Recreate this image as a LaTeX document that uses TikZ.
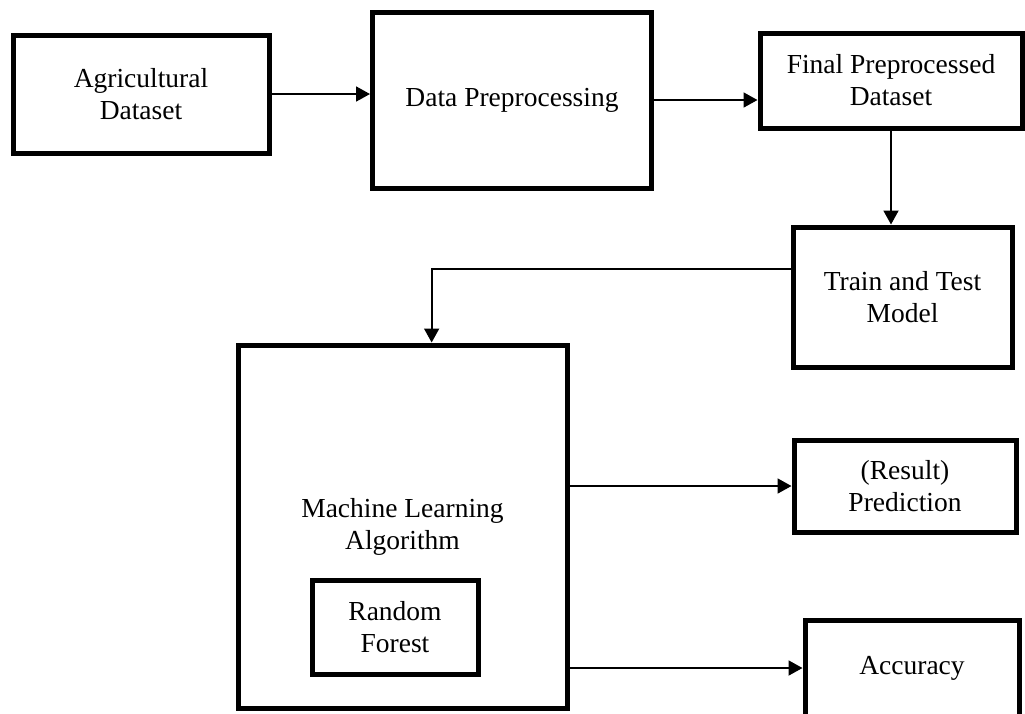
\documentclass[tikz,border=0pt]{standalone}
\usepackage{fontspec}
\setmainfont{Liberation Serif}
\usetikzlibrary{arrows.meta,positioning,calc}
\tikzset{
  block/.style={draw=black, line width=5pt, fill=white, inner sep=0pt,
    align=center, font=\fontsize{27.5}{32}\selectfont},
  flow/.style={-{Triangle[length=14pt, width=15pt]}, line width=1.8pt}
}
\begin{document}
\begin{tikzpicture}[x=1pt, y=-1pt]
  \useasboundingbox (0,0) rectangle (1025,713);

  % top row
  \node[block, minimum width=256pt, minimum height=118pt] (agri) at (141,94) {Agricultural\\Dataset};
  \node[block, minimum width=279pt, minimum height=176pt] (prep) at (512,100) {Data Preprocessing};
  \node[block, minimum width=262pt, minimum height=95pt] (final) at (891,80.5) {Final Preprocessed\\Dataset};
  \node[block, minimum width=219pt, minimum height=140pt] (train) at (902.5,297) {Train and Test\\Model};

  % model block
  \node[block, minimum width=329pt, minimum height=363pt] (ml) at (402.5,526.5) {Machine Learning\\Algorithm};
  \node[block, minimum width=166pt, minimum height=94pt] (rf) at (395,627) {Random\\Forest};

  % outputs
  \node[block, minimum width=222pt, minimum height=92pt] (pred) at (905,486) {(Result)\\Prediction};
  \node[block, minimum width=214pt, minimum height=96pt] (acc) at (912,668) {Accuracy};

  % connectors
  \draw[flow] (agri.east) -- (agri.east -| prep.west);
  \draw[flow] (prep.east) -- (prep.east -| final.west);
  \draw[flow] (final.south) -- (final.south |- train.north);
  \draw[flow] (train.166) -| (ml.81);
  \draw[flow] (ml.east |- pred.west) -- (pred.west);
  \draw[flow] (ml.east |- acc.west) -- (acc.west);
\end{tikzpicture}
\end{document}
